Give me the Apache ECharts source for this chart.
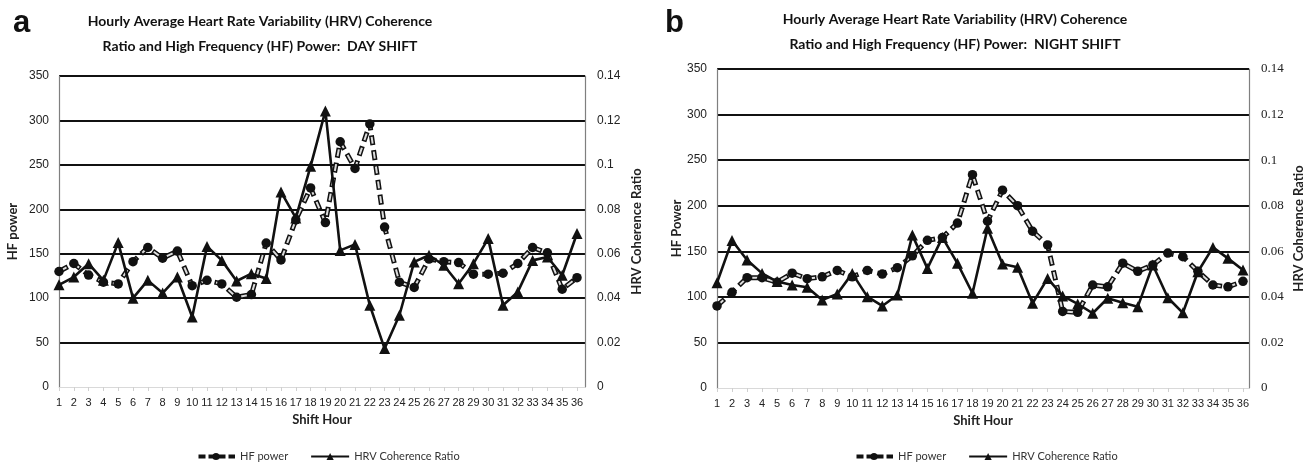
<!DOCTYPE html>
<html><head><meta charset="utf-8">
<script src="https://cdn.jsdelivr.net/npm/echarts@6/dist/echarts.min.js"></script>
<style>html,body{margin:0;padding:0;background:#fff}#c{width:1311px;height:465px}</style>
</head><body><div id="c"></div>
<script>
const hours = [1,2,3,4,5,6,7,8,9,10,11,12,13,14,15,16,17,18,19,20,21,22,23,24,25,26,27,28,29,30,31,32,33,34,35,36];
const dayHF = [130,139,126,118,116,141,157,145,153,114,120,116,101,104,162,143,188,224,185,276,246,296,180,118,112,144,141,140,127,127,128,139,157,151,110,123];
const dayHRV = [0.046,0.0495,0.0555,0.048,0.065,0.040,0.048,0.0423,0.0495,0.0315,0.0633,0.057,0.0477,0.051,0.0488,0.0878,0.0761,0.0994,0.1243,0.0615,0.0642,0.0368,0.0173,0.0323,0.0563,0.0593,0.0548,0.0465,0.0555,0.0668,0.0368,0.0428,0.057,0.0585,0.0503,0.0691];
const nightHF = [90,105,121,121,116,126,120,122,129,122,129,125,132,145,162,165,181,234,183,217,200,172,157,84,83,113,111,137,128,135,148,144,128,113,111,117];
const nightHRV = [0.0462,0.0647,0.0562,0.0503,0.0467,0.0452,0.0442,0.0386,0.0413,0.0503,0.0401,0.036,0.0408,0.0671,0.0525,0.0661,0.0547,0.0416,0.0701,0.0544,0.053,0.0372,0.0481,0.0404,0.0369,0.0328,0.0394,0.0374,0.0357,0.054,0.0396,0.033,0.051,0.0617,0.0569,0.0518];
const hfTicks = {min:0, max:350, interval:50};
const ratioTicks = {min:0, max:0.14, interval:0.02};

const pair = (xs, ys) => xs.map((x, i) => [x, ys[i]]);
const chart = echarts.init(document.getElementById('c'));
const titleFont = 'Lato';
const labelFont = 'Liberation Sans';

function xAxis(gi, max) {
  return {
    type: 'value', gridIndex: gi, min: 1, max: max, interval: 1,
    name: 'Shift Hour', nameLocation: 'middle', nameGap: 24,
    nameTextStyle: {fontFamily: titleFont, fontWeight: 'bold', fontSize: 13, color: '#222'},
    axisLine: {show: true, lineStyle: {color: '#d9d9d9', width: 1}},
    axisTick: {show: true, length: 4, lineStyle: {color: '#d0d0d0'}},
    axisLabel: {fontFamily: labelFont, fontSize: 11, color: '#222', margin: 10, showMaxLabel: false},
    splitLine: {show: false}
  };
}
function yLeft(gi, name, gap) {
  return {
    type: 'value', gridIndex: gi, min: hfTicks.min, max: hfTicks.max, interval: hfTicks.interval,
    position: 'left', name: name, nameLocation: 'middle', nameGap: gap, nameRotate: 90,
    nameTextStyle: {fontFamily: titleFont, fontWeight: 'bold', fontSize: 13, color: '#222'},
    axisLine: {show: true, lineStyle: {color: '#7f7f7f', width: 1.2}},
    axisTick: {show: false},
    axisLabel: {fontFamily: labelFont, fontSize: 12, color: '#222', margin: 10},
    splitLine: {show: true, showMinLine: false, lineStyle: {color: '#111', width: 2}}
  };
}
function yRight(gi, serif, gap) {
  return {
    type: 'value', gridIndex: gi, min: ratioTicks.min, max: ratioTicks.max, interval: ratioTicks.interval,
    position: 'right', name: 'HRV Coherence Ratio', nameLocation: 'middle', nameGap: gap, nameRotate: 90,
    nameTextStyle: {fontFamily: titleFont, fontWeight: 'bold', fontSize: 13, color: '#222'},
    axisLine: {show: true, lineStyle: {color: '#7f7f7f', width: 1.2}},
    axisTick: {show: false},
    axisLabel: {fontFamily: serif ? 'Liberation Serif' : labelFont, fontSize: serif ? 13 : 12, color: '#222', margin: 12},
    splitLine: {show: false}
  };
}
function hfSeries(xi, yi, data) {
  return [
    {type: 'line', name: 'HF outline', xAxisIndex: xi, yAxisIndex: yi, data: data, symbol: 'none',
     lineStyle: {color: '#111', width: 5, type: [10, 5], cap: 'butt'}, silent: true, z: 2, animation: false},
    {type: 'line', name: 'HF power', xAxisIndex: xi, yAxisIndex: yi, data: data, symbol: 'circle', symbolSize: 9.5,
     itemStyle: {color: '#111'},
     lineStyle: {color: '#dcdcdc', width: 2, type: [7, 8], dashOffset: -1.5, cap: 'butt'}, z: 3, animation: false}
  ];
}
function hrvSeries(xi, yi, data) {
  return {type: 'line', name: 'HRV Coherence Ratio', xAxisIndex: xi, yAxisIndex: yi, data: data,
    symbol: 'triangle', symbolSize: 11, itemStyle: {color: '#111'},
    lineStyle: {color: '#111', width: 2.6}, z: 4, animation: false};
}
const legendCommon = {
  orient: 'horizontal', itemWidth: 38, itemHeight: 9, itemGap: 22,
  textStyle: {fontFamily: titleFont, fontSize: 11, color: '#333'},
  data: [{name: 'HF power', lineStyle: {color: '#111', width: 4, type: [7, 3]}}, {name: 'HRV Coherence Ratio'}]
};
const titleText = 'Hourly Average Heart Rate Variability (HRV) Coherence\nRatio and High Frequency (HF) Power:  ';
chart.setOption({
  animation: false,
  title: [
    {text: titleText + 'DAY SHIFT', left: 255, top: 4, textAlign: 'center',
     textStyle: {fontFamily: titleFont, fontWeight: 'bold', fontSize: 14, lineHeight: 25, color: '#111'}},
    {text: titleText + 'NIGHT SHIFT', left: 950, top: 2, textAlign: 'center',
     textStyle: {fontFamily: titleFont, fontWeight: 'bold', fontSize: 14, lineHeight: 25, color: '#111'}},
    {text: 'a', left: 8, top: 3, textStyle: {fontFamily: 'Liberation Sans', fontWeight: 'bold', fontSize: 31, color: '#111'}},
    {text: 'b', left: 660, top: 3, textStyle: {fontFamily: 'Liberation Sans', fontWeight: 'bold', fontSize: 31, color: '#111'}}
  ],
  legend: [
    Object.assign({left: 190, top: 446}, legendCommon),
    Object.assign({left: 848, top: 446}, legendCommon)
  ],
  grid: [
    {left: 59, width: 526, top: 76, height: 311},
    {left: 717, width: 532, top: 69, height: 319}
  ],
  xAxis: [xAxis(0, 36.54), xAxis(1, 36.4)],
  yAxis: [yLeft(0, 'HF power', 40), yRight(0, false, 45), yLeft(1, 'HF Power', 32), yRight(1, true, 43)],
  series: [
    ...hfSeries(0, 0, pair(hours, dayHF)),
    hrvSeries(0, 1, pair(hours, dayHRV)),
    ...hfSeries(1, 2, pair(hours, nightHF)),
    hrvSeries(1, 3, pair(hours, nightHRV))
  ]
});
</script></body></html>
